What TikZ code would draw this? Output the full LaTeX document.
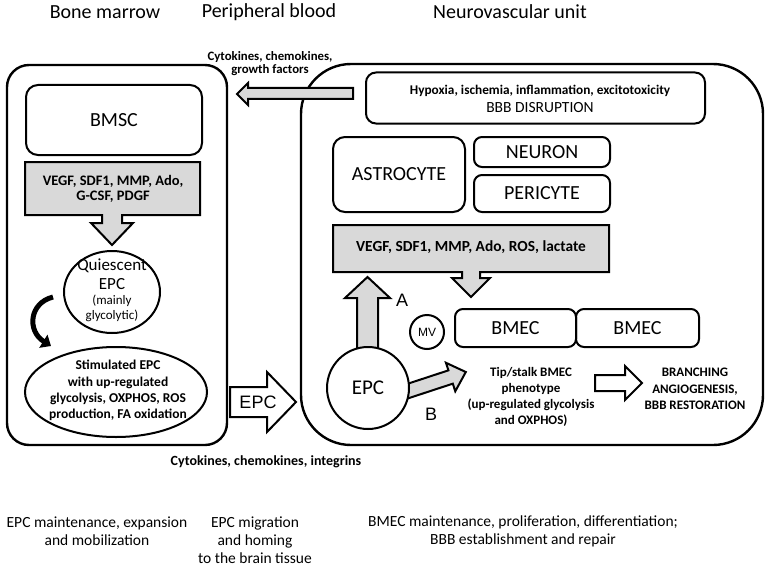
\documentclass[tikz,border=0pt]{standalone}
\usepackage{fontspec}
\setmainfont{Carlito}
\newfontfamily\arialfont{Liberation Sans}
\usetikzlibrary{shapes.geometric,arrows.meta}

\tikzset{
  unitframe/.style={draw, line width=2.4pt, rounded corners=#1, inner sep=0pt},
  cellbox/.style={draw, line width=2pt, rounded corners=#1, inner sep=0pt},
  cellbox/.default=10pt,
  factorbox/.style={draw, line width=2pt, fill=gray!30, line join=miter},
  blockarrow/.style={draw, line width=2pt, fill=#1, line join=miter},
  blockarrow/.default=gray!30,
  headline/.style={font=\fontsize{20}{24}\selectfont},
  stagetext/.style={font=\fontsize{15.5}{18}\selectfont, align=center},
  smallbold/.style={font=\bfseries\fontsize{13}{16}\selectfont, align=center},
  armlabel/.style={font=\arialfont\fontsize{18}{20}\selectfont},
}

\begin{document}
\begin{tikzpicture}[x=1pt,y=-1pt]
\useasboundingbox (0,0) rectangle (767,567);

% column titles
\node[headline] (bm) at (105,12) {Bone marrow};
\node[headline] (pb) at (269,12) {Peripheral blood};
\node[headline] (nvu) at (510,12) {Neurovascular unit};

% the two big compartments
\node[unitframe=22pt, minimum width=220pt, minimum height=380pt] (marrow) at (117,255) {};
\node[unitframe=50pt, minimum width=462pt, minimum height=381pt] (unit) at (532,254.5) {};

% bone marrow side
\node[cellbox=12pt, minimum width=176pt, minimum height=70pt,
  font=\fontsize{20}{24}\selectfont] (bmsc) at (114,120) {BMSC};
\draw[factorbox]
(25,162) -- (200,162) -- (200,215) -- (122,215) --++ (0,8) --++ (11,0)
--++ (-21,22) --++ (-21,-22) --++ (11,0) --++ (0,-8) -- (25,215) -- cycle;
\node[font=\bfseries\fontsize{14.5}{15}\selectfont, align=center] (bmfactors)
  at (113,188.5) {VEGF, SDF1, MMP, Ado,\\G-CSF, PDGF};

\node[draw, ellipse, line width=2pt, minimum width=96pt, minimum height=82pt,
  inner sep=0pt] (qepc) at (112,292) {};
\node[font=\fontsize{17}{19}\selectfont, align=center] (qname) at (112,274.5) {Quiescent\\EPC};
\node[font=\fontsize{13}{15}\selectfont, align=center] (qnote) at (112,308.5) {(mainly\\glycolytic)};

\node[draw, ellipse, line width=2pt, minimum width=182pt, minimum height=90pt,
  inner sep=0pt] (sepc) at (116,392) {};
\node[font=\bfseries\fontsize{13.5}{16.3}\selectfont, align=center] (sname) at (118,390.5)
  {Stimulated EPC\\with up-regulated\\glycolysis, OXPHOS, ROS\\production, FA oxidation};

% activation loop
\coordinate (loopin) at (53,297);
\coordinate (loopout) at (51,346);
\draw[line width=5pt, -{Triangle[length=9pt,width=15pt]}]
(loopin) .. controls (29,303) and (27,331) .. (loopout);

% between the compartments
\node[font=\bfseries\fontsize{12.8}{13}\selectfont, align=center] (signals) at (270,63.5)
  {Cytokines, chemokines,\\growth factors};
\draw[blockarrow]
(353,88) --++ (-105,0) --++ (0,-5) --++ (-11,11) --++ (11,11) --++ (0,-6) --++ (105,0) -- cycle;
\draw[blockarrow=white]
(230,387) --++ (37,0) --++ (0,-15) --++ (29,30) --++ (-29,30) --++ (0,-15) --++ (-37,0) -- cycle;
\node[font=\arialfont\fontsize{18}{20}\selectfont] (epcmove) at (258,402) {EPC};
\node[font=\bfseries\fontsize{14}{16}\selectfont] (homing) at (266,462)
  {Cytokines, chemokines, integrins};

% neurovascular unit
\node[cellbox=10pt, minimum width=339pt, minimum height=51pt] (insult) at (535.5,98) {};
\node[font=\bfseries\fontsize{13.3}{15}\selectfont] (insulta) at (540,91)
  {Hypoxia, ischemia, inflammation, excitotoxicity};
\node[font=\fontsize{15.5}{18}\selectfont] (insultb) at (540,108) {BBB DISRUPTION};

\node[cellbox=12pt, minimum width=132pt, minimum height=75pt,
  font=\fontsize{20}{24}\selectfont] (astro) at (399,174.5) {ASTROCYTE};
\node[cellbox=8pt, minimum width=136pt, minimum height=30pt,
  font=\fontsize{20}{24}\selectfont] (neuron) at (542,152) {NEURON};
\node[cellbox=8pt, minimum width=136pt, minimum height=37pt,
  font=\fontsize{20}{24}\selectfont] (peri) at (542,193.5) {PERICYTE};

\draw[factorbox]
(333,225) -- (609,225) -- (609,272) -- (480,272) --++ (0,6) --++ (10,0)
--++ (-19,19) --++ (-19,-19) --++ (10,0) --++ (0,-6) -- (333,272) -- cycle;
\node[font=\bfseries\fontsize{15.4}{17}\selectfont] (nvfactors) at (471,247)
  {VEGF, SDF1, MMP, Ado, ROS, lactate};

\node[cellbox=8pt, minimum width=121pt, minimum height=38pt,
  font=\fontsize{20}{24}\selectfont] (bmeca) at (515.5,328) {BMEC};
\node[cellbox=8pt, minimum width=123pt, minimum height=38pt,
  font=\fontsize{20}{24}\selectfont] (bmecb) at (637.5,328) {BMEC};
\node[draw, circle, line width=2pt, minimum size=34pt, inner sep=0pt,
  font=\arialfont\fontsize{12}{12}\selectfont] (mv) at (427,332) {MV};

% route A, up to the factors
\draw[blockarrow]
(357,352) --++ (0,-54) --++ (-12,0) --++ (22.5,-21) --++ (22.5,21) --++ (-12,0) --++ (0,54) -- cycle;
% route B, towards the BMEC
\begin{scope}[shift={(405,392)}, rotate=18.2]
\draw[blockarrow]
(0,-7) --++ (48,0) --++ (0,-8) --++ (16,15) --++ (-16,15) --++ (0,-8) --++ (-48,0) -- cycle;
\end{scope}
\node[draw, circle, line width=2pt, fill=white, minimum size=82pt, inner sep=0pt,
  font=\fontsize{21}{24}\selectfont] (epc) at (368,388) {EPC};
\node[armlabel] (routea) at (402,300) {A};
\node[armlabel] (routeb) at (431,414) {B};

\node[smallbold] (tipstalk) at (531,397)
  {Tip/stalk BMEC\\phenotype\\(up-regulated glycolysis\\and OXPHOS)};
\draw[blockarrow=white]
(595,375) --++ (30,0) --++ (0,-9) --++ (17,17) --++ (-17,17) --++ (0,-9) --++ (-30,0) -- cycle;
\node[font=\bfseries\fontsize{13}{16.3}\selectfont, align=center] (outcome) at (695,389)
  {BRANCHING\\ANGIOGENESIS,\\BBB RESTORATION};

% what each stage does
\node[stagetext] (stage1) at (97,531) {EPC maintenance, expansion\\and mobilization};
\node[stagetext] (stage2) at (255,540) {EPC migration\\and homing\\to the brain tissue};
\node[stagetext] (stage3) at (523,531)
  {BMEC maintenance, proliferation, differentiation;\\BBB establishment and repair};
\end{tikzpicture}
\end{document}
